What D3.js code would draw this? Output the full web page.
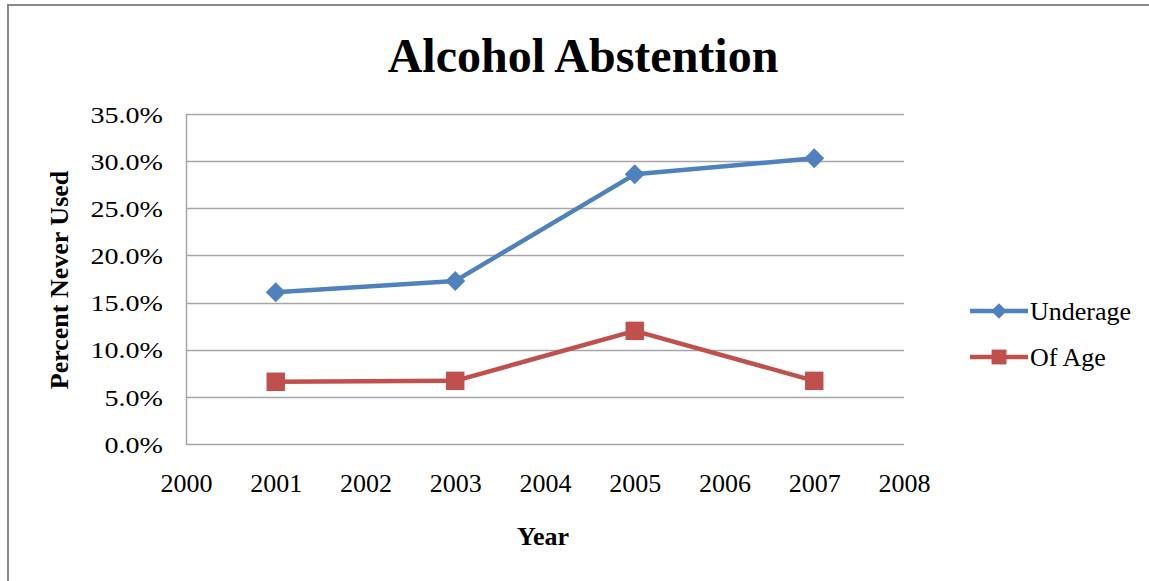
<!DOCTYPE html>
<html>
<head>
<meta charset="utf-8">
<script src="https://cdn.jsdelivr.net/npm/d3@7"></script>
<style>
  html, body { margin: 0; padding: 0; background: #fff; }
  svg { display: block; font-family: "Liberation Serif", "Times New Roman", serif; }
</style>
</head>
<body>
<svg id="chart" width="1149" height="581"></svg>
<script>
// Survey years and share of respondents who never used alcohol
const years = [2001, 2003, 2005, 2007];
const underage = [0.161, 0.173, 0.286, 0.303];
const ofAge = [0.066, 0.067, 0.120, 0.067];
const seriesNames = ["Underage", "Of Age"];
const yTicks = [0, 0.05, 0.10, 0.15, 0.20, 0.25, 0.30, 0.35];
const xTicks = [2000, 2001, 2002, 2003, 2004, 2005, 2006, 2007, 2008];

const blue = "#4F81BD", red = "#C0504D";

const svg = d3.select("#chart");

// Outer frame of the chart object
svg.append("rect")
  .attr("x", 8).attr("y", 5).attr("width", 1160).attr("height", 600)
  .attr("fill", "#fff").attr("stroke", "#888").attr("stroke-width", 2);

const plot = { left: 186, right: 904, top: 114, bottom: 444 };

const x = d3.scaleLinear().domain([2000, 2008]).range([plot.left, plot.right]);
const y = d3.scaleLinear().domain([0, 0.35]).range([plot.bottom, plot.top]);

// Horizontal gridlines
svg.append("g").selectAll("line").data(yTicks).join("line")
  .attr("x1", plot.left).attr("x2", plot.right)
  .attr("y1", d => Math.round(y(d)) + 0.5).attr("y2", d => Math.round(y(d)) + 0.5)
  .attr("stroke", "#a6a6a6").attr("stroke-width", 1.5);

// Left axis line
svg.append("line")
  .attr("x1", plot.left + 0.5).attr("x2", plot.left + 0.5)
  .attr("y1", plot.top).attr("y2", plot.bottom + 1)
  .attr("stroke", "#a6a6a6").attr("stroke-width", 1.5);

// Y axis labels (slightly widened glyphs)
const yAxis = d3.axisLeft(y).tickValues(yTicks).tickFormat(d3.format(".1%")).tickSize(0).tickPadding(23);
const gy = svg.append("g").attr("transform", `translate(${plot.left},0)`).call(yAxis);
gy.select(".domain").remove();
gy.selectAll("text").attr("font-family", "Liberation Serif").attr("font-size", 24)
  .attr("fill", "#000").attr("dy", "0.34em")
  .each(function () {
    const w = this.getComputedTextLength();
    d3.select(this).attr("textLength", w * 1.17).attr("lengthAdjust", "spacingAndGlyphs");
  });

// X axis labels
const xAxis = d3.axisBottom(x).tickValues(xTicks).tickFormat(d3.format("d")).tickSize(0).tickPadding(30);
const gx = svg.append("g").attr("transform", `translate(0,${plot.bottom})`).call(xAxis);
gx.select(".domain").remove();
gx.selectAll("text").attr("font-family", "Liberation Serif").attr("font-size", 26).attr("fill", "#000");

// Title and axis titles
svg.append("text").attr("x", 583).attr("y", 72).attr("text-anchor", "middle")
  .attr("font-size", 48).attr("font-weight", "bold").text("Alcohol Abstention");
svg.append("text").attr("x", 543).attr("y", 545).attr("text-anchor", "middle")
  .attr("font-size", 26).attr("font-weight", "bold").text("Year");
svg.append("text").attr("transform", "translate(68,280) rotate(-90)").attr("text-anchor", "middle")
  .attr("font-size", 26).attr("font-weight", "bold").text("Percent Never Used");

const line = d3.line().x(d => x(d[0])).y(d => y(d[1]));
const under = years.map((yr, i) => [yr, underage[i]]);
const aged = years.map((yr, i) => [yr, ofAge[i]]);

const diamond = d3.symbol().type(d3.symbolSquare).size(200);
const square = d3.symbol().type(d3.symbolSquare).size(340);

function drawSeries(data, color, symbol, rotate) {
  svg.append("path").datum(data).attr("d", line)
    .attr("fill", "none").attr("stroke", color).attr("stroke-width", 4.5).attr("stroke-linejoin", "round");
  svg.append("g").selectAll("path").data(data).join("path")
    .attr("d", symbol)
    .attr("transform", d => `translate(${x(d[0])},${y(d[1])})${rotate ? " rotate(45)" : ""}`)
    .attr("fill", color);
}
drawSeries(under, blue, diamond, true);
drawSeries(aged, red, square, false);

// Legend
const legend = [
  { name: seriesNames[0], color: blue, symbol: d3.symbol().type(d3.symbolSquare).size(120), rotate: true, y: 311 },
  { name: seriesNames[1], color: red, symbol: d3.symbol().type(d3.symbolSquare).size(220), rotate: false, y: 357 }
];
const lg = svg.append("g").selectAll("g").data(legend).join("g");
lg.append("line").attr("x1", 970).attr("x2", 1028).attr("y1", d => d.y).attr("y2", d => d.y)
  .attr("stroke", d => d.color).attr("stroke-width", 4.5);
lg.append("path").attr("d", d => d.symbol())
  .attr("transform", d => `translate(999,${d.y})${d.rotate ? " rotate(45)" : ""}`)
  .attr("fill", d => d.color);
lg.append("text").attr("x", 1030).attr("y", d => d.y + 9)
  .attr("font-size", 26).text(d => d.name);
</script>
</body>
</html>
